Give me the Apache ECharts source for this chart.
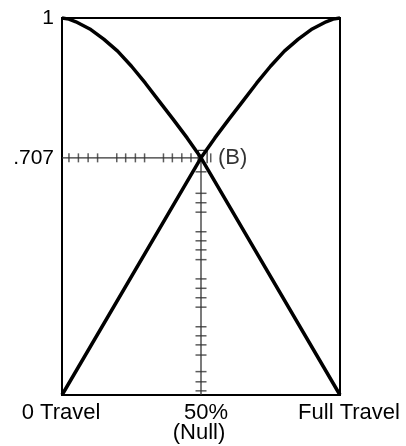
<!DOCTYPE html>
<html>
<head>
<meta charset="utf-8">
<script src="https://cdn.jsdelivr.net/npm/echarts@6/dist/echarts.min.js"></script>
<style>
  html, body { margin: 0; padding: 0; background: #fff; }
  #chart { width: 406px; height: 446px; }
</style>
</head>
<body>
<div id="chart"></div>
<script>
// travel (% of full stroke) vs relative value
const closingX = [0, 2.5, 5, 10, 15, 20, 25, 30, 35, 40, 45, 50, 100];
const closingY = [1.0, 0.997, 0.990, 0.971, 0.944, 0.912, 0.872, 0.827, 0.779, 0.731, 0.682, 0.629, 0];
const openingX = [0, 50, 55, 60, 65, 70, 75, 80, 85, 90, 95, 97.5, 100];
const openingY = [0, 0.629, 0.682, 0.731, 0.779, 0.827, 0.872, 0.912, 0.944, 0.971, 0.990, 0.997, 1.0];

const nullPoint = [50, 0.629];
const hTickX = [2.5, 5.9, 9.4, 12.8, 19.7, 22.9, 26.4, 29.7, 36.5, 39.7, 43.1, 46.4, 53.5];
const vTickY = [0.592, 0.535, 0.510, 0.485, 0.433, 0.409, 0.385, 0.359, 0.308, 0.283, 0.258, 0.233,
                0.181, 0.157, 0.133, 0.106, 0.062, 0.035, 0.011];
const boxX = [49.0, 52.2];
const boxY = [0.615, 0.649];

const xLabelValues = [0, 50, 100];
const xLabelText = ['{a|0 Travel}', '{b|50%}\n{c|(Null)}', '{d|Full Travel}'];
const yLabelValues = [0.629, 1];
const yLabelText = ['.707', '1'];

const chart = echarts.init(document.getElementById('chart'));
const font = 'Liberation Sans';
const ink = '#000';
const rule = '#333';
const labelText = { color: ink, fontFamily: font, fontSize: 22, lineHeight: 20 };

const option = {
    animation: false,
    grid: {
        left: 62, right: 66, top: 18, bottom: 51,
        show: true, borderColor: ink, borderWidth: 2
    },
    xAxis: {
        type: 'value', min: 0, max: 100,
        axisLine: { show: false }, axisTick: { show: false }, splitLine: { show: false },
        axisLabel: {
            customValues: xLabelValues,
            formatter: v => xLabelText[xLabelValues.indexOf(v)],
            color: ink, fontFamily: font, fontSize: 22, lineHeight: 20, margin: 8,
            rich: {
                a: Object.assign({ padding: [0, 2, 0, 0] }, labelText),
                b: Object.assign({ padding: [0, 0, 0, 10] }, labelText),
                c: Object.assign({ padding: [0, 4, 0, 0] }, labelText),
                d: Object.assign({ padding: [0, 0, 0, 18] }, labelText)
            }
        }
    },
    yAxis: {
        type: 'value', min: 0, max: 1,
        axisLine: { show: false }, axisTick: { show: false }, splitLine: { show: false },
        axisLabel: {
            customValues: yLabelValues,
            formatter: v => yLabelText[yLabelValues.indexOf(v)],
            color: ink, fontFamily: font, fontSize: 21, margin: 8
        }
    },
    series: [
        {
            // reference rule across at .707
            type: 'line', silent: true, symbol: 'none',
            data: [[0, nullPoint[1]], nullPoint],
            lineStyle: { color: rule, width: 1.3 }
        },
        {
            // reference rule down at 50%
            type: 'line', silent: true, symbol: 'none',
            data: [nullPoint, [nullPoint[0], 0]],
            lineStyle: { color: rule, width: 1.3 }
        },
        {
            type: 'scatter', silent: true, symbol: 'rect', symbolSize: [1.5, 9],
            itemStyle: { color: rule },
            data: hTickX.map(x => [x, nullPoint[1]])
        },
        {
            type: 'scatter', silent: true, symbol: 'rect', symbolSize: [11, 1.5],
            itemStyle: { color: rule },
            data: vTickY.map(y => [nullPoint[0], y])
        },
        {
            type: 'line', silent: true, symbol: 'none',
            data: [[boxX[0], boxY[0]], [boxX[0], boxY[1]], [boxX[1], boxY[1]], [boxX[1], boxY[0]]],
            lineStyle: { color: rule, width: 1.3 }
        },
        {
            type: 'line', symbol: 'none', clip: false,
            data: closingX.map((x, i) => [x, closingY[i]]),
            lineStyle: { color: ink, width: 3.5 }
        },
        {
            type: 'line', symbol: 'none', clip: false,
            data: openingX.map((x, i) => [x, openingY[i]]),
            lineStyle: { color: ink, width: 3.5 }
        },
        {
            type: 'scatter', symbolSize: 0,
            data: [nullPoint],
            label: {
                show: true, position: 'right', distance: 17,
                formatter: '(B)', color: ink, fontFamily: font, fontSize: 22
            }
        }
    ]
};

chart.setOption(option);
</script>
</body>
</html>
